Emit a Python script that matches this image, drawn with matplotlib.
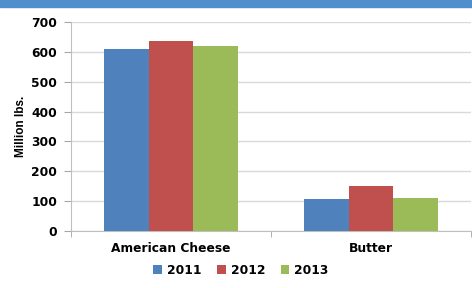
import matplotlib
matplotlib.use("Agg")
import matplotlib.pyplot as plt
import numpy as np
from matplotlib.patches import Rectangle

categories = ["American Cheese", "Butter"]
years = ["2011", "2012", "2013"]
values_2011 = [611, 107]
values_2012 = [636, 150]
values_2013 = [619, 109]
colors = ["#4F81BD", "#C0504D", "#9BBB59"]
yticks = [0, 100, 200, 300, 400, 500, 600, 700]

fig = plt.figure(figsize=(4.72, 2.88), dpi=100)
fig.patches.append(Rectangle((0, 1 - 7/288), 1, 7/288, transform=fig.transFigure,
                             color="#4F8FCC", zorder=0))
ax = fig.add_axes([71/472, 1 - 231/288, 400/472, 209/288])

x = np.arange(len(categories))
w = 0.223
series = [values_2011, values_2012, values_2013]
for i, (vals, c, yr) in enumerate(zip(series, colors, years)):
    ax.bar(x + (i - 1) * w, vals, width=w, color=c, label=yr, zorder=3)

ax.set_xlim(-0.5, 1.5)
ax.set_ylim(0, 700)
ax.set_yticks(yticks)
ax.set_yticklabels([str(t) for t in yticks], fontsize=8.8, fontweight="bold")
ax.set_xticks(x)
ax.set_xticklabels(categories, fontsize=8.8, fontweight="bold")
ax.tick_params(axis="x", length=0, pad=8)
ax.set_xticks([-0.5, 0.5, 1.5], minor=True)
ax.tick_params(axis="x", which="minor", length=4, color="#A6A6A6")
ax.tick_params(axis="y", length=5, color="#A6A6A6", pad=5)
ax.grid(axis="y", color="#D9D9D9", linewidth=1, zorder=0)
for s in ["top", "right"]:
    ax.spines[s].set_visible(False)
ax.spines["left"].set_color("#BFBFBF")
ax.spines["bottom"].set_color("#BFBFBF")
ax.set_ylabel("Million lbs.", fontsize=8.5, fontweight="bold", family="Liberation Sans", labelpad=3)

ax.legend(loc="upper center", bbox_to_anchor=(0.425, -0.105), ncol=3, frameon=False,
          prop={"size": 8.8, "weight": "bold"}, handlelength=0.7, handleheight=0.7,
          handletextpad=0.4, columnspacing=1.3)

fig.savefig("out.png", dpi=100)
